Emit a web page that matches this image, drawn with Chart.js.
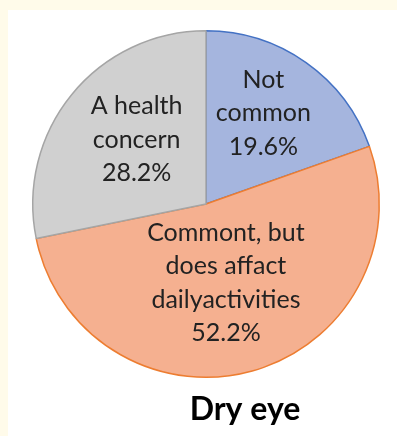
<!DOCTYPE html>
<html>
<head>
<meta charset="utf-8">
<script src="https://cdn.jsdelivr.net/npm/chart.js@4/dist/chart.umd.min.js"></script>
<style>
  html, body { margin: 0; padding: 0; }
  body { width: 397px; height: 436px; background: #fffbea; position: relative; overflow: hidden; }
  #box { position: absolute; left: 8px; top: 10px; width: 389px; height: 426px; background: #ffffff; }
</style>
</head>
<body>
<div id="box"><canvas id="pie" width="389" height="426"></canvas></div>
<script>
/******** data ********/
const labels = [
  ["Not", "common"],
  ["Commont, but", "does affact", "dailyactivities"],
  ["A health", "concern"]
];
const shares = [19.6, 52.2, 28.2];
const chartTitle = "Dry eye";

/******** look ********/
const fills = ["#a5b5de", "#f5b090", "#d0d0d0"];
const edges = ["#4472c4", "#ed7d31", "#a5a5a5"];
const labelRadius = [0.62, 0.47, 0.545];   // where the text sits, fraction of radius
const labelTurn = [-3, 1.3, 3.5];          // small angle nudge, degrees
const labelFont = "25px Lato";
const lineGap = 33.5;

// draws the text inside each slice and the title under the pie
const sliceText = {
  id: 'sliceText',
  afterDatasetsDraw(chart) {
    const ctx = chart.ctx;
    const arcs = chart.getDatasetMeta(0).data;
    ctx.save();
    ctx.font = labelFont;
    ctx.fillStyle = "#222222";
    ctx.textAlign = "center";
    ctx.textBaseline = "middle";
    arcs.forEach((arc, i) => {
      const p = arc.getProps(['x', 'y', 'startAngle', 'endAngle', 'outerRadius'], true);
      const mid = (p.startAngle + p.endAngle) / 2 + labelTurn[i] * Math.PI / 180;
      const r = p.outerRadius * labelRadius[i];
      const cx = p.x + Math.cos(mid) * r;
      const cy = p.y + Math.sin(mid) * r;
      const lines = labels[i].concat([shares[i].toFixed(1) + "%"]);
      const top = cy - (lines.length - 1) * lineGap / 2;
      lines.forEach((t, k) => ctx.fillText(t, cx, top + k * lineGap));
    });
    // title
    const a = arcs[0];
    ctx.font = "bold 32px Lato";
    ctx.fillStyle = "#000000";
    ctx.fillText(chartTitle, a.x + 39, a.y + a.outerRadius + 32);
    ctx.restore();
  }
};

new Chart(document.getElementById('pie'), {
  type: 'pie',
  data: {
    labels: labels.map(l => l.join(' ')),
    datasets: [{
      data: shares,
      backgroundColor: fills,
      borderColor: edges,
      borderWidth: 1.5
    }]
  },
  options: {
    responsive: false,
    animation: false,
    layout: { padding: { left: 24, top: 20, right: 17, bottom: 58 } },
    plugins: {
      legend: { display: false },
      tooltip: { enabled: false }
    }
  },
  plugins: [sliceText]
});
</script>
</body>
</html>
